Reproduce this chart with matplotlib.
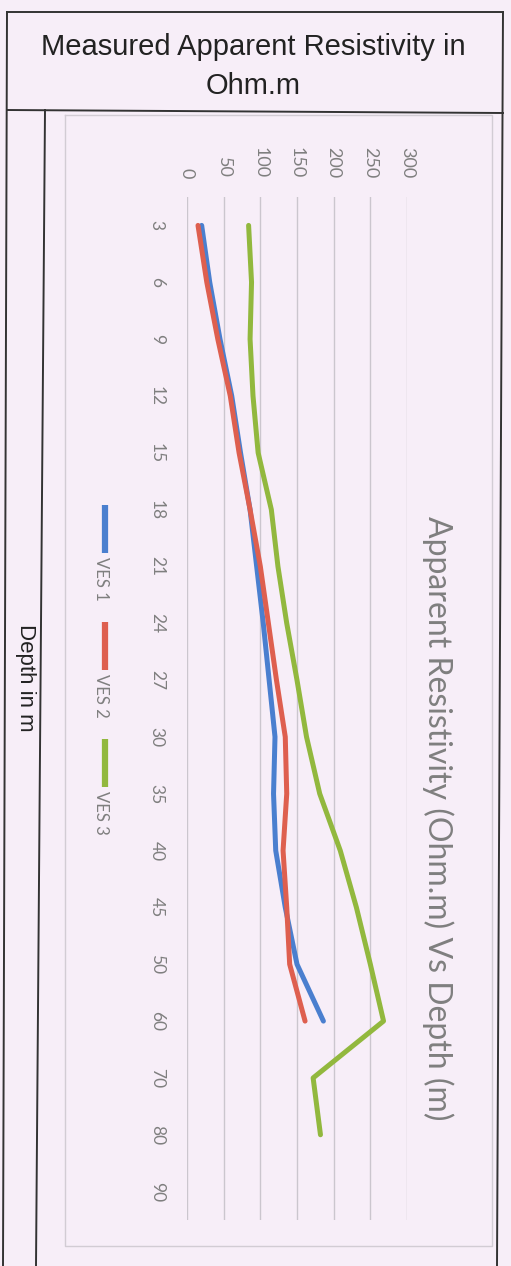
import matplotlib.pyplot as plt
import numpy as np

# depth categories (m) and apparent resistivity (Ohm.m)
depths = [3, 6, 9, 12, 15, 18, 21, 24, 27, 30, 35, 40, 45, 50, 60, 70, 80, 90]
ves1 = [20, 31, 45, 61, 73, 86, 95, 104, 112, 120, 118, 121, 134, 150, 186]
ves2 = [15, 27, 42, 59, 71, 86, 100, 111, 122, 134, 136, 131, 136, 140, 161]
ves3 = [84, 88, 86, 90, 97, 115, 124, 136, 150, 163, 181, 209, 231, 250, 268, 172, 182]
names = ["VES 1", "VES 2", "VES 3"]
colors = ["#4a7fcf", "#de5f4f", "#92b83e"]

W, H = 511, 1266
paper = "#f7eef8"
ink = "#333333"
grey = "#7f7f7f"

fig = plt.figure(figsize=(W / 100, H / 100), dpi=100, facecolor=paper)

# page layer in pixel coordinates (the scanned table around the chart)
pg = fig.add_axes([0, 0, 1, 1])
pg.set_xlim(0, W)
pg.set_ylim(H, 0)
pg.axis("off")
pg.plot([7, 503], [12, 12], color=ink, lw=1.4)
pg.plot([7, 3], [12, H], color=ink, lw=1.4)
pg.plot([503, 497], [12, H], color=ink, lw=1.4)
pg.plot([7, 503], [110, 113], color=ink, lw=1.4)
pg.plot([45, 36], [110, H], color=ink, lw=1.4)
pg.plot([65, 492, 492, 65, 65], [115, 115, 1246, 1246, 115], color="#d2ccd4", lw=1)

pg.text(253, 47, "Measured Apparent Resistivity in", ha="center", va="center",
        fontsize=21, color="#222222", family="Liberation Sans")
pg.text(253, 86, "Ohm.m", ha="center", va="center",
        fontsize=21, color="#222222", family="Liberation Sans")
pg.text(25, 678, "Depth in m", rotation=270, ha="center", va="center",
        fontsize=16, color="#222222", family="Liberation Sans")

# chart title (chart is printed rotated 90 degrees clockwise)
pg.text(438, 818, "Apparent Resistivity (Ohm.m) Vs Depth (m)", rotation=270,
        ha="center", va="center", fontsize=23, color=grey, family="Lato")

# legend, drawn by hand because it is rotated too
for i, (name, c) in enumerate(zip(names, colors)):
    y0 = 505 + i * 117
    pg.plot([105, 105], [y0, y0 + 48], color=c, lw=4.5, solid_capstyle="butt")
    pg.text(101, y0 + 52, name, rotation=270, ha="center", va="top",
            fontsize=12, color=grey, family="Lato")

# main plot: value axis runs left->right, depth categories run top->bottom
ax = fig.add_axes([187 / W, 1 - 1220 / H, 220 / W, 1023 / H])
ax.patch.set_alpha(0)
ypos = np.arange(len(depths)) + 0.5
for vals, c in zip([ves1, ves2, ves3], colors):
    ax.plot(vals, ypos[:len(vals)], color=c, lw=3.6, solid_capstyle="round",
            solid_joinstyle="round")

ax.set_xlim(0, 300)
ax.set_ylim(len(depths), 0)
ax.set_xticks(range(0, 301, 50))
ax.set_yticks(ypos)
ax.set_yticklabels([str(d) for d in depths])
ax.xaxis.tick_top()
ax.tick_params(axis="x", length=0, pad=13.5, labelsize=13, labelcolor=grey)
ax.tick_params(axis="y", length=0, pad=16, labelsize=12.5, labelcolor=grey)
for lbl in ax.get_xticklabels():
    lbl.set_rotation(270)
    lbl.set_va("bottom")
    lbl.set_ha("center")
    lbl.set_family("Lato")
for lbl in ax.get_yticklabels():
    lbl.set_rotation(270)
    lbl.set_ha("right")
    lbl.set_va("center")
    lbl.set_family("Lato")
ax.grid(axis="x", color="#cbc6ce", lw=1)
ax.grid(axis="y", visible=False)
for s in ax.spines.values():
    s.set_visible(False)

fig.savefig("out.png", dpi=100, facecolor=paper)
